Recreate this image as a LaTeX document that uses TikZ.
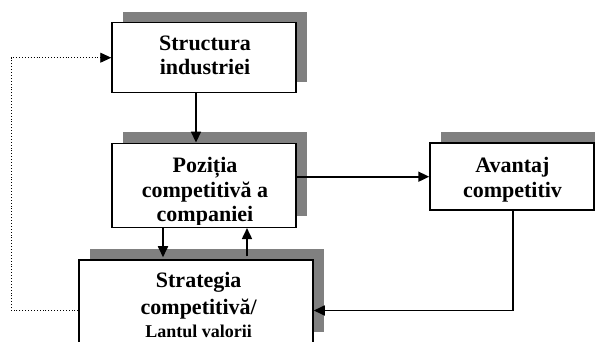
\documentclass[tikz,border=0pt]{standalone}
\usepackage{fontspec}
\setmainfont{Liberation Serif}
\usetikzlibrary{arrows.meta,shadows}
\definecolor{shadowgray}{RGB}{128,128,128}
\tikzset{
  box/.style={draw,fill=white,line width=1.5pt,inner sep=0pt,
    drop shadow={shadow xshift=11pt,shadow yshift=11pt,fill=shadowgray,opacity=1}},
  boxtext/.style={align=center,inner sep=0pt,anchor=base,
    font=\fontsize{22}{24.5}\selectfont\bfseries},
  link/.style={line width=1.7pt,-{Triangle[length=11pt,width=10pt]}}
}
\begin{document}
\begin{tikzpicture}[x=1pt,y=-1pt]
\useasboundingbox (0,0) rectangle (595,342);
\clip (0,0) rectangle (595,342);
% boxes
\node[box,minimum width=184pt,minimum height=70pt] (struct) at (204,57.7) {};
\node[box,minimum width=184pt,minimum height=84pt] (pozitia) at (204,185.3) {};
\node[box,minimum width=164pt,minimum height=67pt] (avantaj) at (512,176.7) {};
\node[box,minimum width=234pt,minimum height=83pt] (strategia) at (196,301.5) {};
% texts (base = last line)
\node[boxtext] (structtext) at (205,75) {Structura\\industriei};
\node[boxtext] (avantajtext) at (512.5,197.3) {Avantaj\\competitiv};
\node[boxtext] (strategiatext) at (198.7,337.3)
  {Strategia\\[3pt]competitivă/\\[-2pt]{\fontsize{18}{20}\selectfont Lantul valorii}};
\begin{scope}
\clip ([yshift=4pt]pozitia.south west) rectangle (pozitia.north east);
\node[boxtext] (pozitiatext) at (205,221.5) {Poziția\\competitivă a\\companiei};
\end{scope}
% links
\draw[link] ([xshift=-8pt]struct.south) -- ([xshift=-8pt]pozitia.north);
\draw[link] (pozitia.east |- avantaj.west) -- (avantaj.west);
\draw[link] ([xshift=-41pt]pozitia.south) -- ([xshift=-33pt,yshift=2pt]strategia.north);
\draw[link] ([xshift=51pt,yshift=3pt]strategia.north) -- ([xshift=43pt]pozitia.south);
\draw[link] ([xshift=1pt]avantaj.south) |- ([yshift=-9pt]strategia.east);
\draw[link,line width=0.9pt,dotted] ([yshift=-9pt]strategia.west) -- ++(-67,0)
  |- (struct.west);
\end{tikzpicture}
\end{document}
